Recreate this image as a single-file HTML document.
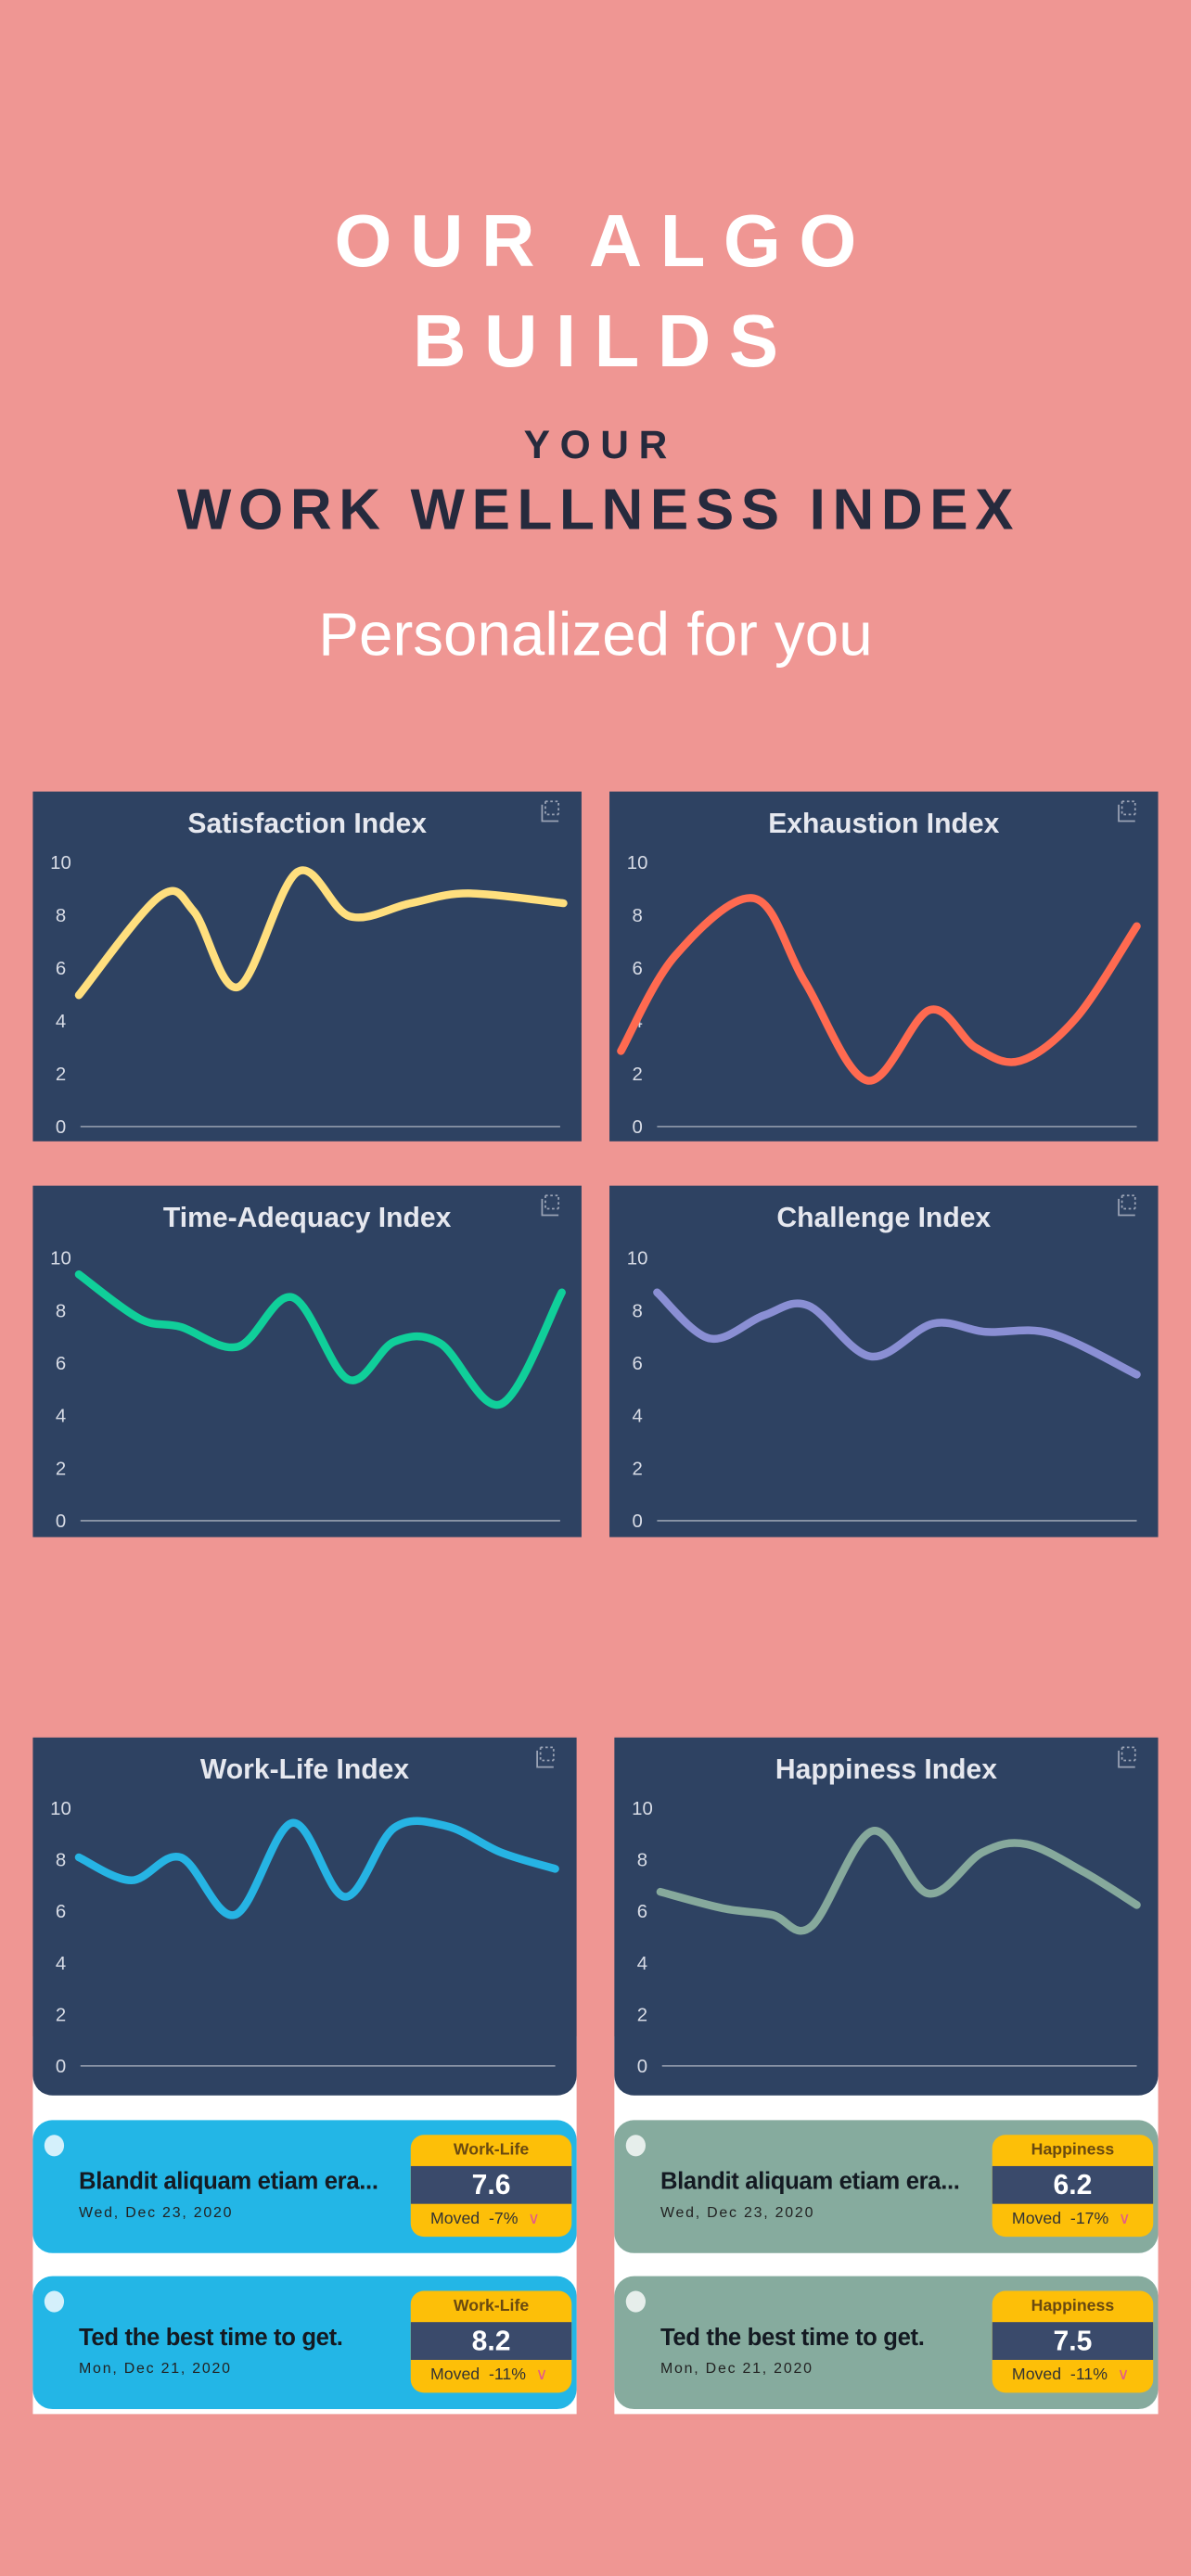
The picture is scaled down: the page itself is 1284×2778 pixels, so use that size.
<!DOCTYPE html>
<html><head><meta charset="utf-8">
<style>
html,body{margin:0;padding:0;}
body{width:1284px;height:2778px;overflow:hidden;background:#ef9693;font-family:"Liberation Sans",sans-serif;}
#w{position:absolute;left:0;top:0;width:725px;height:1568px;transform:scale(1.771);transform-origin:0 0;}
.t{position:absolute;left:0;width:725px;text-align:center;font-weight:bold;white-space:nowrap;}
.card{position:absolute;background:#2e4262;}
.card svg{position:absolute;left:0;top:0;}
.panel{position:absolute;background:#fff;}
.ev{position:absolute;height:81px;width:331px;border-radius:12px;}
.dot{position:absolute;left:7px;top:9px;width:12px;height:13px;border-radius:50%;}
.et{position:absolute;left:28px;top:30px;font-size:14.5px;font-weight:bold;color:#141a22;white-space:nowrap;letter-spacing:-0.2px;}
.ed{position:absolute;left:28px;top:51px;font-size:9px;color:#222;letter-spacing:1px;}
.b{position:absolute;left:230px;top:9px;width:98px;height:62px;border-radius:8px;overflow:hidden;background:#fdbf08;}
.b1{height:19px;text-align:center;font-size:10px;font-weight:bold;color:#6a4a10;line-height:19px;}
.b2{height:23px;background:#3a4a6b;color:#fff;text-align:center;font-size:17px;font-weight:bold;line-height:23px;}
.b3{height:20px;font-size:10px;color:#333;line-height:20px;padding-left:12px;}
.b3 span{color:#e45a8a;margin-left:6px;}
</style></head><body>
<div id="w">
<div class="t" style="top:121px;font-size:45px;letter-spacing:11px;color:#fff;text-indent:11px;">OUR ALGO</div>
<div class="t" style="top:182px;font-size:45px;letter-spacing:11px;color:#fff;text-indent:11px;">BUILDS</div>
<div class="t" style="top:258px;font-size:24px;letter-spacing:6px;color:#262a3d;text-indent:6px;">YOUR</div>
<div class="t" style="top:291px;font-size:35px;letter-spacing:4.3px;color:#262a3d;text-indent:4px;">WORK WELLNESS INDEX</div>
<div class="t" style="top:366px;font-size:37px;font-weight:normal;color:#fff;">Personalized for you</div>

<div class="panel" style="left:20px;top:1240px;width:331px;height:230px;"></div>
<div class="panel" style="left:374px;top:1240px;width:331px;height:230px;"></div>

<div id="charts"></div>

<div class="ev" style="left:20px;top:1291px;background:#23b6e6;"><div class="dot" style="background:#d4f0fb"></div><div class="et">Blandit aliquam etiam era...</div><div class="ed">Wed, Dec 23, 2020</div><div class="b"><div class="b1">Work-Life</div><div class="b2">7.6</div><div class="b3">Moved &nbsp;-7%<span>&#8744;</span></div></div></div>
<div class="ev" style="left:20px;top:1386px;background:#23b6e6;"><div class="dot" style="background:#d4f0fb"></div><div class="et">Ted the best time to get.</div><div class="ed">Mon, Dec 21, 2020</div><div class="b"><div class="b1">Work-Life</div><div class="b2">8.2</div><div class="b3">Moved &nbsp;-11%<span>&#8744;</span></div></div></div>
<div class="ev" style="left:374px;top:1291px;background:#86ab9e;"><div class="dot" style="background:#e6eeeb"></div><div class="et">Blandit aliquam etiam era...</div><div class="ed">Wed, Dec 23, 2020</div><div class="b"><div class="b1">Happiness</div><div class="b2">6.2</div><div class="b3">Moved &nbsp;-17%<span>&#8744;</span></div></div></div>
<div class="ev" style="left:374px;top:1386px;background:#86ab9e;"><div class="dot" style="background:#e6eeeb"></div><div class="et">Ted the best time to get.</div><div class="ed">Mon, Dec 21, 2020</div><div class="b"><div class="b1">Happiness</div><div class="b2">7.5</div><div class="b3">Moved &nbsp;-11%<span>&#8744;</span></div></div></div>
</div>
<script>
var C=[
{x:20,y:482,w:334,h:213,t:"Satisfaction Index",c:"#ffdf7e",top:43,bot:204,r:0,p:[[28,124],[77,64],[98,73],[125,119],[161,49],[193,76],[230,68],[265,62],[323,68]]},
{x:371,y:482,w:334,h:213,t:"Exhaustion Index",c:"#ff6a50",top:43,bot:204,r:0,p:[[7,158],[40,100],[88,65],[119,116],[157,176],[195,133],[223,156],[250,164],[284,138],[321,82]]},
{x:20,y:722,w:334,h:214,t:"Time-Adequacy Index",c:"#10cf9a",top:44,bot:204,r:0,p:[[28,54],[65,81],[90,86],[125,98],[158,68],[192,118],[220,95],[248,96],[285,133],[322,65]]},
{x:371,y:722,w:334,h:214,t:"Challenge Index",c:"#8a8fd4",top:44,bot:204,r:0,p:[[29,65],[61,93],[94,79],[121,73],[159,104],[197,84],[229,89],[269,90],[321,115]]},
{x:20,y:1058,w:331,h:218,t:"Work-Life Index",c:"#26b4e4",top:43,bot:200,r:12,p:[[28,73],[60,87],[90,73],[123,108],[158,52],[190,97],[220,55],[252,54],[285,70],[318,80]]},
{x:374,y:1058,w:331,h:218,t:"Happiness Index",c:"#86a99c",top:43,bot:200,r:12,p:[[28,94],[66,104],[96,108],[120,115],[157,57],[191,95],[224,70],[251,65],[286,82],[318,102]]}
];
function path(p){var d="M"+p[0][0]+","+p[0][1];for(var i=0;i<p.length-1;i++){var p0=p[i-1]||p[i],p1=p[i],p2=p[i+1],p3=p[i+2]||p2;
d+=" C"+(p1[0]+(p2[0]-p0[0])/6)+","+(p1[1]+(p2[1]-p0[1])/6)+" "+(p2[0]-(p3[0]-p1[0])/6)+","+(p2[1]-(p3[1]-p1[1])/6)+" "+p2[0]+","+p2[1];}return d;}
var h="";
C.forEach(function(c){var s='<div class="card" style="left:'+c.x+'px;top:'+c.y+'px;width:'+c.w+'px;height:'+c.h+'px;border-radius:0 0 '+c.r+'px '+c.r+'px"><svg width="'+c.w+'" height="'+c.h+'">';
s+='<text x="'+(c.w/2)+'" y="25" text-anchor="middle" font-family="Liberation Sans" font-weight="bold" font-size="17" fill="#e6e8ef">'+c.t+'</text>';
s+='<g fill="none" stroke="#9aa3b5" stroke-width="1"><path d="M'+(c.w-22)+',6h8v8M'+(c.w-22)+',6v8h8" stroke-dasharray="1.5,1.5"/><path d="M'+(c.w-24)+',8v10h10"/></g>';
for(var v=0;v<=10;v+=2){var y=c.bot-(c.bot-c.top)*v/10;s+='<text x="17" y="'+(y+4)+'" text-anchor="middle" font-family="Liberation Sans" font-size="11.5" fill="#d8dce6">'+v+'</text>';}
s+='<line x1="29" x2="'+(c.w-13)+'" y1="'+c.bot+'" y2="'+c.bot+'" stroke="#8a94a6" stroke-width="1"/>';
s+='<path d="'+path(c.p)+'" fill="none" stroke="'+c.c+'" stroke-width="4.8" stroke-linecap="round"/>';
s+='</svg></div>';h+=s;});
document.getElementById("charts").innerHTML=h;
</script>
</body></html>
